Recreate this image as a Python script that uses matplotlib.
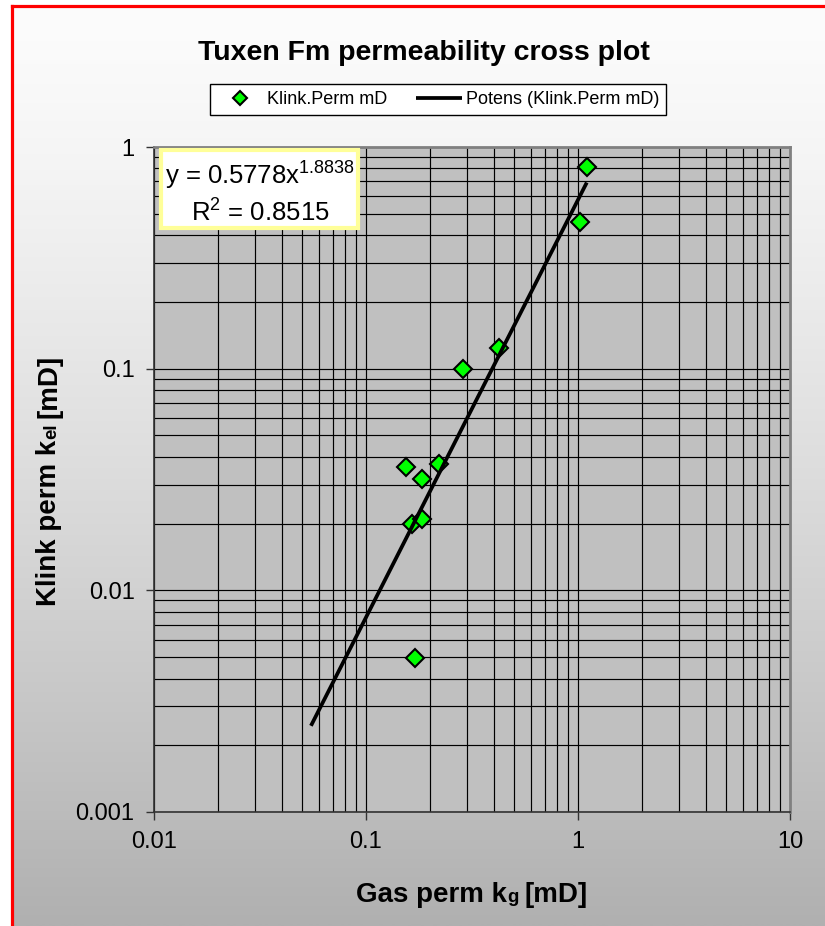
import numpy as np
import matplotlib
matplotlib.use("Agg")
import matplotlib.pyplot as plt
from matplotlib.lines import Line2D
from matplotlib.patches import Rectangle
from matplotlib.ticker import FixedLocator, LogLocator, NullFormatter
from matplotlib.transforms import IdentityTransform

plt.rcParams["font.family"] = ["Liberation Sans", "DejaVu Sans"]
plt.rcParams["mathtext.fontset"] = "custom"
plt.rcParams["mathtext.rm"] = "Liberation Sans"
plt.rcParams["mathtext.it"] = "Liberation Sans:italic"
plt.rcParams["mathtext.bf"] = "Liberation Sans:bold"

# data
gas_perm = [1.10, 1.02, 0.424, 0.287, 0.154, 0.183, 0.221, 0.165, 0.184, 0.170]
klink_perm = [0.81, 0.459, 0.124, 0.0997, 0.036, 0.0318, 0.0373, 0.020, 0.021, 0.00497]
# power trendline as printed on the chart
coef_a, coef_b = 0.5778, 1.8838
r_squared = 0.8515
trend_x = np.array([0.055, 1.10])
trend_y = coef_a * trend_x ** coef_b

x_ticks = [0.01, 0.1, 1, 10]
x_labels = ["0.01", "0.1", "1", "10"]
y_ticks = [0.001, 0.01, 0.1, 1]
y_labels = ["0.001", "0.01", "0.1", "1"]

W, H = 825, 926
def fx(px): return px / W
def fy(py): return 1 - py / H

fig = plt.figure(figsize=(W / 100, H / 100), dpi=100, facecolor="white")

# grey gradient chart area inside the red frame
bg = fig.add_axes([fx(11), 0, 1 - fx(11), fy(6)], zorder=-5)
t = np.linspace(0, 1, 256)[:, None]
shade = (252 - 76 * t ** 1.3) / 255
bg.imshow(np.dstack([shade] * 3), aspect="auto", extent=[0, 1, 0, 1], interpolation="bilinear")
bg.set_axis_off()
fig.add_artist(Line2D([fx(11.5), fx(11.5)], [0, fy(6)], color="red", lw=2.3, transform=fig.transFigure))
fig.add_artist(Line2D([fx(11.5), 1], [fy(6), fy(6)], color="red", lw=2.3, transform=fig.transFigure))

ax = fig.add_axes([fx(154), fy(812), fx(790) - fx(154), fy(147) - fy(812)])
ax.set_facecolor("#C0C0C0")
ax.set_xscale("log"); ax.set_yscale("log")
ax.set_xlim(0.01, 10); ax.set_ylim(0.001, 1)
for axis, tk in [(ax.xaxis, x_ticks), (ax.yaxis, y_ticks)]:
    axis.set_major_locator(FixedLocator(tk))
    axis.set_minor_locator(LogLocator(base=10, subs=np.arange(2, 10)))
    axis.set_minor_formatter(NullFormatter())
ax.set_xticklabels(x_labels); ax.set_yticklabels(y_labels)
ax.grid(which="both", color="black", lw=0.85)
ax.set_axisbelow(True)
ax.tick_params(which="major", direction="out", length=6, width=1, labelsize=17, pad=8, color="#333333")
ax.tick_params(which="minor", length=0)
for s in ["left", "bottom"]:
    ax.spines[s].set_color("#333333"); ax.spines[s].set_linewidth(1.2)
for s in ["top", "right"]:
    ax.spines[s].set_color("#808080"); ax.spines[s].set_linewidth(2.0)

h_sc, = ax.plot(gas_perm, klink_perm, ls="none", marker="D", ms=9, mfc="#00FF00", mec="black",
                mew=1.5, zorder=3, label="Klink.Perm mD")
h_tr, = ax.plot(trend_x, trend_y, color="black", lw=2.7, zorder=4, solid_capstyle="butt",
                label="Potens (Klink.Perm mD)")

leg = fig.legend(handles=[h_sc, h_tr], loc="center", bbox_to_anchor=(fx(438), fy(99.5)), ncol=2,
                 fontsize=13, frameon=True, fancybox=False, edgecolor="black", framealpha=1,
                 handlelength=2.55, handletextpad=0.2, columnspacing=1.6, borderpad=0.4,
                 numpoints=1, markerscale=0.8)
leg.get_frame().set_linewidth(1.0)

fig.text(fx(423.5), fy(60), "Tuxen Fm permeability cross plot", ha="center", va="baseline",
         fontsize=20.5, fontweight="bold")

# equation box
fig.add_artist(Rectangle((fx(161), fy(228)), fx(360) - fx(161) - fx(2), fy(150) - fy(228),
                         transform=fig.transFigure, facecolor="white", edgecolor="#FFFF99", lw=3))
fig.text(fx(260), fy(185), "y = 0.5778x$^{1.8838}$", ha="center", va="baseline", fontsize=18.5)
fig.text(fx(260), fy(222), "R$^{2}$ = 0.8515", ha="center", va="baseline", fontsize=18.5)

# axis labels with smaller subscript letters on the baseline
def label_run(parts, base_px, center_px, vertical):
    idt = IdentityTransform()
    texts = []
    for s, size, gap in parts:
        tx = fig.text(0, 0, s, fontsize=size, fontweight="bold", ha="left", va="baseline",
                      rotation=90 if vertical else 0, rotation_mode="anchor", transform=idt)
        texts.append((tx, gap))
    r = fig.canvas.get_renderer()
    lens = []
    for tx, gap in texts:
        e = tx.get_window_extent(r)
        lens.append((e.height if vertical else e.width) + gap)
    pos = center_px - sum(lens) / 2
    for (tx, gap), L in zip(texts, lens):
        if vertical:
            tx.set_position((base_px, pos))
        else:
            tx.set_position((pos, base_px))
        pos += L

label_run([("Gas perm k", 20, 0), ("g", 13.5, 6), ("[mD]", 20, 0)], H - 902, 472, False)
label_run([("Klink perm k", 20, 0), ("el", 13.5, 6), ("[mD]", 20, 0)], 56, H - 480, True)

fig.savefig("out.png", dpi=100)
